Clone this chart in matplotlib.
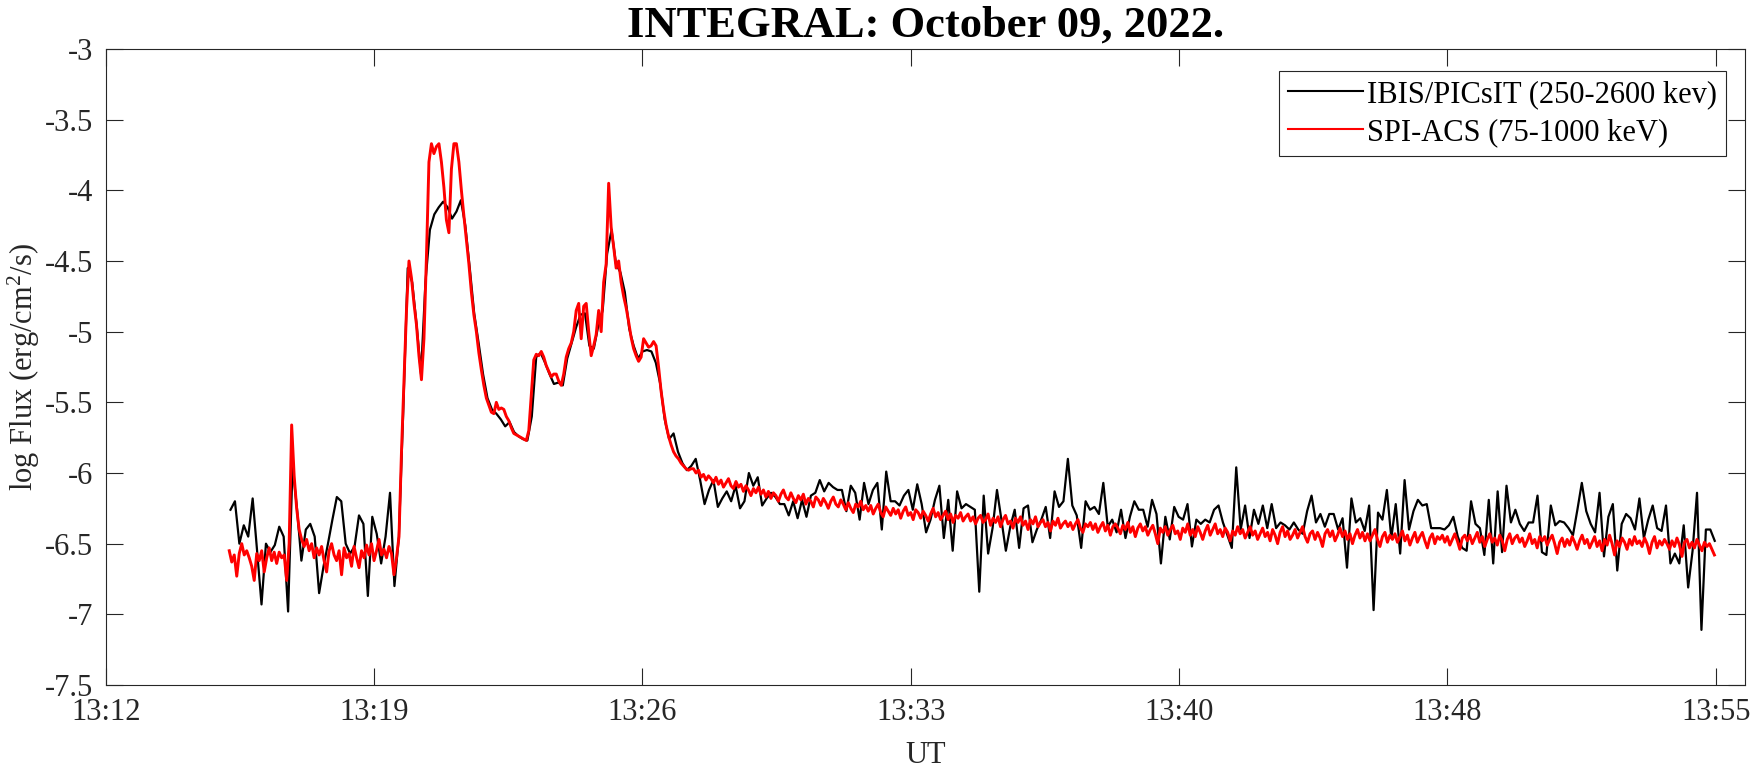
import numpy as np
import matplotlib
matplotlib.use("Agg")
import matplotlib.pyplot as plt

plt.rcParams['font.family'] = ['Liberation Serif', 'DejaVu Serif']
plt.rcParams['mathtext.fontset'] = 'custom'
plt.rcParams['mathtext.rm'] = 'Liberation Serif'

# ---------------- data (time in seconds after 13:12:00 UT) ----------------
ibis_t0, ibis_dt = 200.0, 7.1      # IBIS/PICsIT sampling
acs_t0, acs_dt = 198.0, 4.0        # SPI-ACS sampling

ibis_pre = [-6.26, -6.20, -6.50, -6.37, -6.45, -6.18, -6.55, -6.93, -6.50, -6.56,
            -6.51, -6.38, -6.45, -6.98, -5.95, -6.25, -6.62, -6.40, -6.36, -6.45,
            -6.85, -6.66, -6.50, -6.33, -6.17, -6.20, -6.50, -6.57, -6.52, -6.30,
            -6.36, -6.87, -6.31, -6.43, -6.64, -6.45, -6.14, -6.80, -6.45]
ibis_flare = [-5.55, -4.55, -4.65, -4.95, -5.30, -4.65, -4.28, -4.17, -4.12, -4.08,
              -4.12, -4.20, -4.15, -4.07, -4.25, -4.55, -4.87, -5.08, -5.30, -5.47,
              -5.55, -5.58, -5.62, -5.67, -5.64, -5.71, -5.74, -5.76, -5.77, -5.60,
              -5.18, -5.15, -5.22, -5.30, -5.37, -5.36, -5.38, -5.19, -5.08, -4.97,
              -4.88, -4.87, -5.10, -5.12, -4.96, -4.85, -4.45, -4.28, -4.52, -4.58,
              -4.72, -4.98, -5.10, -5.19, -5.14, -5.13, -5.14, -5.22, -5.37, -5.62,
              -5.76, -5.72, -5.85, -5.93, -5.98, -5.95]
ibis_decay = [-5.90, -6.05, -6.22, -6.12, -6.05, -6.24, -6.18, -6.13, -6.20, -6.09,
              -6.25, -6.20, -6.00, -6.09, -6.03, -6.23, -6.18, -6.14, -6.17, -6.22,
              -6.22, -6.30, -6.20, -6.32, -6.19, -6.31, -6.16, -6.14, -6.05, -6.13,
              -6.07, -6.10, -6.12, -6.12, -6.27, -6.09, -6.14, -6.33, -6.07, -6.22,
              -6.12, -6.07, -6.40, -5.99, -6.20, -6.20, -6.23, -6.16, -6.12, -6.26,
              -6.08, -6.22, -6.42, -6.33, -6.19, -6.09, -6.46, -6.19, -6.55, -6.13,
              -6.25, -6.22, -6.24, -6.26, -6.84, -6.16, -6.57, -6.39, -6.12, -6.33,
              -6.55, -6.38, -6.26, -6.53, -6.25, -6.23, -6.49, -6.40, -6.33, -6.24,
              -6.46, -6.13, -6.24, -6.20, -5.90, -6.23, -6.30, -6.53, -6.20, -6.26,
              -6.24, -6.29, -6.07, -6.38, -6.33, -6.42, -6.26, -6.46, -6.31, -6.20,
              -6.26, -6.26, -6.38, -6.19, -6.29, -6.64, -6.31, -6.47, -6.24, -6.31,
              -6.33, -6.22, -6.52, -6.33, -6.36, -6.33]
ibis_tail = [-6.35, -6.26, -6.23, -6.35, -6.44, -6.53, -5.96, -6.40, -6.23, -6.46,
             -6.26, -6.36, -6.23, -6.39, -6.22, -6.39, -6.35, -6.37, -6.40, -6.35,
             -6.40, -6.43, -6.27, -6.16, -6.35, -6.29, -6.38, -6.29, -6.29, -6.40,
             -6.32, -6.67, -6.18, -6.35, -6.32, -6.41, -6.23, -6.97, -6.28, -6.33,
             -6.12, -6.46, -6.22, -6.57, -6.05, -6.40, -6.27, -6.19, -6.23, -6.22,
             -6.39, -6.39, -6.39, -6.40, -6.37, -6.31, -6.45, -6.53, -6.55, -6.20,
             -6.36, -6.39, -6.58, -6.19, -6.64, -6.13, -6.56, -6.09, -6.35, -6.26,
             -6.36, -6.41, -6.35, -6.35, -6.16, -6.56, -6.58, -6.23, -6.37, -6.34,
             -6.35, -6.39, -6.44, -6.26, -6.07, -6.27, -6.36, -6.42, -6.14, -6.59,
             -6.31, -6.22, -6.69, -6.36, -6.29, -6.32, -6.40, -6.18, -6.46, -6.33,
             -6.23, -6.39, -6.41, -6.23, -6.64, -6.57, -6.64, -6.37, -6.81, -6.55,
             -6.14, -7.11, -6.40, -6.40, -6.48]

acs_pre = [-6.55, -6.63, -6.58, -6.73, -6.57, -6.50, -6.58, -6.55, -6.60, -6.66,
           -6.76, -6.57, -6.62, -6.55, -6.70, -6.60, -6.53, -6.62, -6.56, -6.64,
           -6.56, -6.60, -6.58, -6.76, -6.50, -5.66, -6.02, -6.25, -6.40, -6.47,
           -6.52, -6.47, -6.55, -6.50, -6.60, -6.53, -6.58, -6.52, -6.62, -6.70,
           -6.55, -6.50, -6.58, -6.62, -6.55, -6.72, -6.53, -6.60, -6.57, -6.66,
           -6.52, -6.60, -6.67, -6.55, -6.60, -6.51, -6.58, -6.50, -6.62, -6.55,
           -6.47, -6.58, -6.54, -6.60, -6.52, -6.57, -6.72, -6.60, -6.45]
acs_flare = [-5.85, -5.35, -4.85, -4.50, -4.62, -4.80, -4.95, -5.17, -5.34, -5.05,
             -4.47, -3.80, -3.67, -3.74, -3.69, -3.67, -3.80, -3.98, -4.21, -4.30,
             -3.85, -3.67, -3.67, -3.80, -4.00, -4.18, -4.35, -4.52, -4.72, -4.88,
             -5.00, -5.15, -5.27, -5.38, -5.47, -5.52, -5.57, -5.58, -5.50, -5.55,
             -5.54, -5.55, -5.60, -5.63, -5.68, -5.72, -5.73, -5.74, -5.75, -5.76,
             -5.77, -5.70, -5.45, -5.20, -5.16, -5.17, -5.14, -5.18, -5.24, -5.28,
             -5.32, -5.30, -5.30, -5.35, -5.38, -5.30, -5.18, -5.12, -5.08, -5.00,
             -4.85, -4.80, -5.05, -4.82, -4.80, -5.00, -5.17, -5.10, -5.02, -4.85,
             -5.00, -4.65, -4.52, -3.95, -4.26, -4.40, -4.55, -4.50, -4.65, -4.75,
             -4.83, -4.93, -5.04, -5.12, -5.17, -5.21, -5.18, -5.05, -5.08, -5.11,
             -5.10, -5.07, -5.10, -5.25, -5.42, -5.55, -5.66, -5.74, -5.80, -5.85,
             -5.88, -5.90, -5.93, -5.95, -5.97, -5.98, -5.97]
acs_tail = [-5.97, -6.00, -5.98, -6.03, -6.01, -6.05, -6.02, -6.04, -6.07, -6.03,
            -6.08, -6.05, -6.10, -6.07, -6.04, -6.09, -6.11, -6.06, -6.10, -6.08,
            -6.13, -6.09, -6.12, -6.16, -6.11, -6.14, -6.10, -6.15, -6.12, -6.17,
            -6.13, -6.18, -6.14, -6.16, -6.20, -6.15, -6.12, -6.17, -6.19, -6.14,
            -6.18, -6.21, -6.16, -6.19, -6.15, -6.22, -6.18, -6.20, -6.24, -6.17,
            -6.19, -6.23, -6.18, -6.21, -6.25, -6.20, -6.17, -6.22, -6.24, -6.19,
            -6.22, -6.26, -6.21, -6.25, -6.28, -6.22, -6.24, -6.20, -6.26, -6.23,
            -6.27, -6.23, -6.29, -6.25, -6.22, -6.28, -6.31, -6.24, -6.27, -6.30,
            -6.25, -6.29, -6.26, -6.32, -6.27, -6.24, -6.30, -6.28, -6.33, -6.26,
            -6.28, -6.32, -6.27, -6.30, -6.34, -6.29, -6.25, -6.31, -6.28, -6.33,
            -6.30, -6.27, -6.33, -6.29, -6.35, -6.30, -6.32, -6.28, -6.34, -6.31,
            -6.29, -6.34, -6.31, -6.36, -6.32, -6.30, -6.35, -6.33, -6.29, -6.37,
            -6.32, -6.35, -6.31, -6.38, -6.33, -6.30, -6.36, -6.34, -6.39, -6.32,
            -6.35, -6.31, -6.37, -6.34, -6.40, -6.33, -6.36, -6.31, -6.38, -6.35,
            -6.33, -6.38, -6.35, -6.41, -6.34, -6.37, -6.32, -6.39, -6.36, -6.34,
            -6.38, -6.35, -6.40, -6.36, -6.33, -6.39, -6.42, -6.36, -6.38, -6.35,
            -6.40, -6.36, -6.42, -6.38, -6.35, -6.41, -6.37, -6.44, -6.38, -6.36,
            -6.39, -6.43, -6.37, -6.40, -6.35, -6.42, -6.38, -6.45, -6.39, -6.36,
            -6.41, -6.38, -6.44, -6.40, -6.37, -6.43, -6.50, -6.39, -6.42, -6.38,
            -6.44, -6.40, -6.37, -6.43, -6.41, -6.47, -6.39, -6.42, -6.36, -6.44,
            -6.40, -6.45, -6.38, -6.42, -6.47, -6.41, -6.37, -6.44, -6.40, -6.36,
            -6.43, -6.40, -6.45, -6.39, -6.42, -6.48, -6.41, -6.44, -6.38, -6.43,
            -6.40, -6.46, -6.42, -6.38, -6.44, -6.41, -6.47, -6.43, -6.39, -6.45,
            -6.42, -6.48, -6.40, -6.44, -6.50, -6.42, -6.38, -6.45, -6.41, -6.47,
            -6.44, -6.40, -6.46, -6.42, -6.38, -6.45, -6.49, -6.43, -6.41, -6.47,
            -6.42, -6.46, -6.52, -6.43, -6.40, -6.45, -6.41, -6.48, -6.44, -6.39,
            -6.45, -6.41, -6.47, -6.43, -6.50, -6.44, -6.40, -6.46, -6.42, -6.48,
            -6.43, -6.48, -6.44, -6.40, -6.47, -6.52, -6.45, -6.42, -6.49, -6.44,
            -6.47, -6.43, -6.49, -6.45, -6.41, -6.48, -6.44, -6.51, -6.46, -6.42,
            -6.49, -6.45, -6.42, -6.48, -6.53, -6.46, -6.43, -6.50, -6.45, -6.47,
            -6.44, -6.49, -6.45, -6.51, -6.47, -6.43, -6.48, -6.54, -6.46, -6.44,
            -6.48, -6.44, -6.50, -6.46, -6.42, -6.49, -6.45, -6.52, -6.47, -6.43,
            -6.49, -6.46, -6.51, -6.44, -6.48, -6.55, -6.47, -6.43, -6.50, -6.46,
            -6.44, -6.49, -6.46, -6.52, -6.48, -6.43, -6.50, -6.47, -6.53, -6.45,
            -6.48, -6.45, -6.51, -6.47, -6.44, -6.50, -6.57, -6.49, -6.46, -6.52,
            -6.47, -6.51, -6.45, -6.49, -6.54, -6.48, -6.44, -6.50, -6.47, -6.53,
            -6.49, -6.45, -6.52, -6.48, -6.55, -6.47, -6.51, -6.44, -6.50, -6.58,
            -6.48, -6.52, -6.46, -6.49, -6.54, -6.47, -6.51, -6.45, -6.50, -6.48,
            -6.52, -6.46, -6.50, -6.57, -6.49, -6.45, -6.53, -6.48, -6.51, -6.47,
            -6.50, -6.54, -6.48, -6.52, -6.46, -6.51, -6.59, -6.49, -6.47, -6.53,
            -6.49, -6.53, -6.47, -6.51, -6.55, -6.49, -6.52, -6.50, -6.54, -6.58]

xtick_sec = [0, 430, 860, 1290, 1720, 2150, 2580]
xtick_labels = ['13:12', '13:19', '13:26', '13:33', '13:40', '13:48', '13:55']
ytick_vals = [-7.5, -7, -6.5, -6, -5.5, -5, -4.5, -4, -3.5, -3]
ytick_labels = ['-7.5', '-7', '-6.5', '-6', '-5.5', '-5', '-4.5', '-4', '-3.5', '-3']
series_labels = ['IBIS/PICsIT (250-2600 kev)', 'SPI-ACS (75-1000 keV)']

ibis = np.array(ibis_pre + ibis_flare + ibis_decay + ibis_tail)
acs = np.array(acs_pre + acs_flare + acs_tail)
t_ibis = ibis_t0 + ibis_dt * np.arange(len(ibis))
t_acs = acs_t0 + acs_dt * np.arange(len(acs))

# ---------------- figure ----------------
W, H = 1750, 769
fig = plt.figure(figsize=(W / 100, H / 100), dpi=100)
ax_l, ax_r, ax_t, ax_b = 105.7, 1745, 49, 685
ax = fig.add_axes([ax_l / W, 1 - ax_b / H, (ax_r - ax_l) / W, (ax_b - ax_t) / H])

txt = '#262626'
ax.plot(t_ibis, ibis, color='black', lw=1.6, label=series_labels[0])
ax.plot(t_acs, acs, color='#ff0000', lw=2.1, label=series_labels[1])

ax.set_xlim(0, 2627)
ax.set_ylim(-7.5, -3)
ax.set_xticks(xtick_sec)
ax.set_xticklabels(xtick_labels)
ax.set_yticks(ytick_vals)
ax.set_yticklabels(ytick_labels)

ax.tick_params(direction='in', top=True, right=True, length=12.2, width=0.8,
               colors=txt, labelsize=22)
ax.tick_params(axis='x', pad=9.5)
ax.tick_params(axis='y', pad=9)
for s in ax.spines.values():
    s.set_color(txt)
    s.set_linewidth(0.8)

ax.set_xlabel('UT', fontsize=22, color=txt, labelpad=10)
ax.set_ylabel('log Flux (erg/cm$\\mathregular{^2}$/s)', fontsize=22, color=txt, labelpad=2)
ax.set_title('INTEGRAL: October 09, 2022.', fontsize=32, fontweight='bold',
             color='black', pad=8.9)

leg = ax.legend(loc='upper right', bbox_to_anchor=(0.9884, 0.9659), borderaxespad=0,
                fontsize=22, handlelength=2.45, handletextpad=0.12, borderpad=0.3,
                labelspacing=0.3, fancybox=False, framealpha=1)
leg.get_frame().set_edgecolor(txt)
leg.get_frame().set_linewidth(0.8)
for line in leg.get_lines():
    line.set_linewidth(1.5)
for text in leg.get_texts():
    text.set_color('black')

fig.savefig('out.png', dpi=100)
